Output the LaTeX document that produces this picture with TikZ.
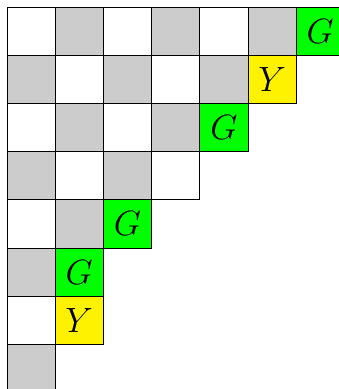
\documentclass[tikz,border=0pt]{standalone}
\tikzset{
  cell/.style={draw=black, minimum size=1cm, inner sep=0pt, outer sep=0pt, font=\huge},
  lite/.style={cell, fill=white},
  dark/.style={cell, fill=gray!40},
  grn/.style={cell, fill=green},
  ylw/.style={cell, fill=yellow},
}
\begin{document}
\begin{tikzpicture}
\useasboundingbox (-0.145,0.145) rectangle (6.867,-7.925);
% checkerboard staircase
\foreach \r/\n in {0/7,1/6,2/5,3/4,4/3,5/2,6/2,7/1} {
  \foreach \c in {1,...,\n} {
    \pgfmathtruncatemacro{\k}{mod(\r+\c-1,2)}
    \ifnum\k=0
      \node[lite] (c-\r-\c) at (\c-0.5,-\r-0.5) {};
    \else
      \node[dark] (c-\r-\c) at (\c-0.5,-\r-0.5) {};
    \fi
  }
}
% marked cells
\node[grn] (g1) at (6.5,-0.5) {$G$};
\node[ylw] (y1) at (5.5,-1.5) {$Y$};
\node[grn] (g2) at (4.5,-2.5) {$G$};
\node[grn] (g3) at (2.5,-4.5) {$G$};
\node[grn] (g4) at (1.5,-5.5) {$G$};
\node[ylw] (y2) at (1.5,-6.5) {$Y$};
\end{tikzpicture}
\end{document}
